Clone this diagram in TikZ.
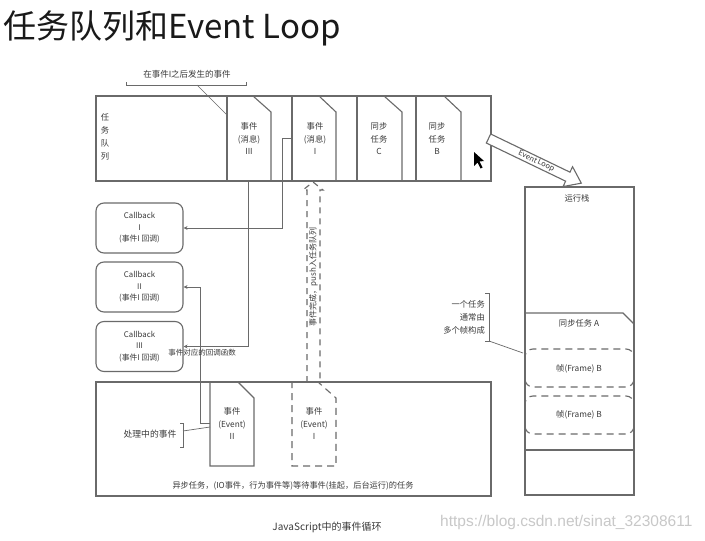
\documentclass[tikz,border=0pt]{standalone}
\usepackage{fontspec}
\setmainfont{Noto Sans CJK SC}
\newfontfamily\wmfont{Liberation Sans}
\usetikzlibrary{arrows.meta}
\definecolor{linec}{HTML}{6A6A6A}
\definecolor{textc}{HTML}{3A3A3A}
\definecolor{wmc}{HTML}{C8C8C8}
\tikzset{
  ln/.style={draw=linec, line width=1.1pt},
  dsh/.style={ln, dash pattern=on 7pt off 5pt},
  conn/.style={draw=linec, line width=0.9pt, -{Stealth[length=4pt,width=4pt]}},
  txt/.style={text=textc, align=center, inner sep=0pt, font=\fontsize{8.3}{12.5}\selectfont},
  stxt/.style={text=textc, align=center, inner sep=0pt, font=\fontsize{7.5}{10}\selectfont},
  cbbox/.style={ln, rounded corners=8pt, minimum width=87pt, minimum height=50pt, text=textc, align=center, inner sep=0pt, font=\fontsize{7.8}{11.5}\selectfont},
}
\begin{document}
\begin{tikzpicture}[x=1pt,y=-1pt]
\useasboundingbox (0,0) rectangle (705,541);
\fill[white] (0,0) rectangle (705,541);

% title
\node[anchor=west, inner sep=0pt, text=black!90, font=\fontsize{33}{36}\selectfont] (title) at (3,28) {任务队列和Event Loop};

% task queue
\draw[ln] (96,96) rectangle (491,181);
\node[txt, font=\fontsize{8.3}{13}\selectfont] (qlabel) at (105,137) {任\\务\\队\\列};
\foreach \l/\d/\r in {227/253/271, 292/319/336, 357/384/402, 416/444/461}{
  \draw[ln] (\l,96) -- (\l,181);
  \draw[ln] (\d,96) -- (\r,112) -- (\r,181);
}
\node[txt] (m3) at (249,139) {事件\\(消息)\\III};
\node[txt] (m1) at (315,139) {事件\\(消息)\\I};
\node[txt] (sc) at (379,139) {同步\\任务\\C};
\node[txt] (sb) at (437,139) {同步\\任务\\B};

% label above queue
\node[stxt, font=\fontsize{8.5}{10}\selectfont] (after) at (187,74) {在事件I之后发生的事件};
\draw[ln, line width=0.7pt] (126,82) -- (126,85) -- (246,85) -- (246,82);
\coordinate (afterfoot) at (197,85);
\coordinate (afterhead) at (227,115);
\draw[ln, line width=0.7pt] (afterfoot) -- (afterhead);

% cursor
\fill[black] (474,152) -- (474,166) -- (477.5,162.5) -- (480.5,168.5) -- (482.5,167.5) -- (479.5,161.5) -- (484,161) -- cycle;

% stack
\draw[ln] (525,187) rectangle (634,495);
\draw[ln] (525,450) -- (634,450);
\node[txt] (stacklabel) at (577,198) {运行栈};
\draw[ln] (525,313) -- (623,313) -- (634,324);
\node[txt] (taskA) at (579,323) {同步任务 A};
\draw[dsh, rounded corners=8pt] (525,349) rectangle (634,387);
\node[txt] (fr1) at (579,369) {帧(Frame) B};
\draw[dsh, rounded corners=8pt] (525,396) rectangle (634,434);
\node[txt] (fr2) at (579,415) {帧(Frame) B};

% frame note
\node[txt, align=right, anchor=east, font=\fontsize{8.3}{13}\selectfont] (note) at (485,317) {一个任务\\通常由\\多个帧构成};
\draw[ln, line width=0.7pt] (485,293) -- (489,293) -- (489,341) -- (485,341);
\coordinate (notefoot) at (489,341);
\coordinate (notehead) at (523,353);
\draw[ln, line width=0.7pt] (notefoot) -- (notehead);

% Event Loop arrow
\begin{scope}[shift={(488.5,138.5)}, rotate=-25.7]
  \draw[ln, fill=white] (0,-5) -- (88,-5) -- (88,-11) -- (103,0) -- (88,11) -- (88,5) -- (0,5) -- cycle;
  \node[stxt, rotate=-25.7, font=\fontsize{7.5}{9}\selectfont] (el) at (53,0) {Event Loop};
\end{scope}

% callbacks
\node[cbbox] (cb1) at (139.5,228) {Callback\\I\\(事件I 回调)};
\node[cbbox] (cb2) at (139.5,287) {Callback\\II\\(事件I 回调)};
\node[cbbox] (cb3) at (139.5,346.5) {Callback\\III\\(事件I 回调)};

% bottom box
\draw[ln] (96,382) rectangle (491,496);
\draw[ln] (210,382) -- (238,382) -- (254,398) -- (254,466) -- (210,466) -- cycle;
\node[txt] (ev2) at (232,424) {事件\\(Event)\\II};
\draw[dsh] (292,382) -- (318,382) -- (336,398) -- (336,466) -- (292,466) -- cycle;
\node[txt] (ev1) at (314,424) {事件\\(Event)\\I};
\node[txt, font=\fontsize{8.8}{10}\selectfont] (proc) at (150,434) {处理中的事件};
\draw[ln, line width=0.7pt] (180,423) -- (183,423) -- (183,447) -- (180,447);
\coordinate (procfoot) at (183,431);
\coordinate (prochead) at (210,427);
\draw[ln, line width=0.7pt] (procfoot) -- (prochead);
\node[txt, font=\fontsize{8.2}{10}\selectfont] (async) at (293,486) {异步任务，(IO事件，行为事件等)等待事件(挂起，后台运行)的任务};

% dashed hollow arrow
\draw[dsh, dash pattern=on 6pt off 5pt] (307,382) -- (307,190) -- (303,190) -- (313,182) -- (323,190) -- (320,190) -- (320,382);
\node[stxt, rotate=90, font=\fontsize{8}{10}\selectfont] (push) at (313.5,277) {事件完成，push入任务队列};

% connectors
\coordinate (e1) at (292,138);
\coordinate (e3) at (248,181);
\coordinate (e2) at (210,423);
\draw[conn] (e1) -- (282,138) |- (cb1.east);
\draw[conn] (e3) |- (cb3.east);
\draw[conn] (e2) -- (200,423) |- (cb2.east);
\node[stxt] (cblabel) at (202,353) {事件对应的回调函数};

% caption and watermark
\node[txt, font=\fontsize{10}{12}\selectfont] (caption) at (327,527) {JavaScript中的事件循环};
\node[anchor=west, inner sep=0pt, text=wmc, font=\wmfont\fontsize{15.5}{18}\selectfont] (wm) at (440,522) {https://blog.csdn.net/sinat\_32308611};
\end{tikzpicture}
\end{document}
